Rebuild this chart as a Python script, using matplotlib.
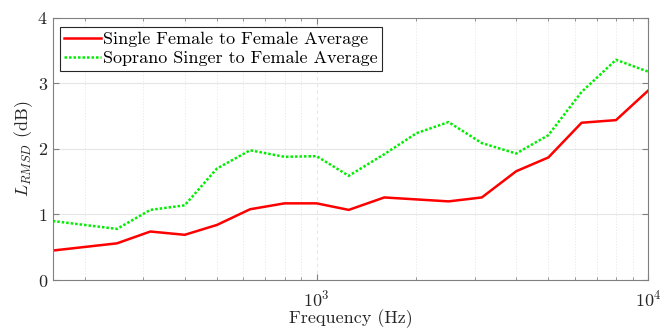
import matplotlib
matplotlib.use("Agg")
import matplotlib.pyplot as plt
from matplotlib.ticker import LogLocator, NullFormatter, FixedLocator

plt.rcParams['font.family'] = ['cmr10', 'DejaVu Serif']
plt.rcParams['mathtext.fontset'] = 'cm'
plt.rcParams['axes.formatter.use_mathtext'] = True

freqs = [160, 250, 315, 400, 500, 630, 800, 1000, 1250, 1600, 2000, 2500,
         3150, 4000, 5000, 6300, 8000, 10000]
single_female = [0.45, 0.56, 0.74, 0.69, 0.84, 1.08, 1.17, 1.17, 1.07, 1.26,
                 1.23, 1.20, 1.26, 1.66, 1.87, 2.40, 2.44, 2.89]
soprano = [0.90, 0.78, 1.07, 1.14, 1.70, 1.98, 1.88, 1.89, 1.59, 1.92,
           2.24, 2.41, 2.09, 1.93, 2.21, 2.87, 3.36, 3.18]
labels = ['Single Female to Female Average', 'Soprano Singer to Female Average']

fig = plt.figure(figsize=(6.6, 3.31), dpi=100)
ax = fig.add_axes([0.080, 0.154, 0.902, 0.792])

ax.plot(freqs, single_female, color='#ff0000', lw=1.8, label=labels[0])
ax.plot(freqs, soprano, color='#00ee00', lw=1.8, ls=(0, (1, 0.8)), label=labels[1])

ax.set_xscale('log')
ax.set_xlim(160, 10000)
ax.set_ylim(0, 4)
ax.set_yticks([0, 1, 2, 3, 4])
ax.xaxis.set_major_locator(FixedLocator([1000, 10000]))
ax.xaxis.set_minor_locator(LogLocator(base=10, subs=range(2, 10), numticks=20))
ax.xaxis.set_minor_formatter(NullFormatter())

ax.grid(True, which='major', axis='y', color='#e6e6e6', lw=0.8)
ax.grid(True, which='major', axis='x', color='#e6e6e6', lw=0.8, ls=(0, (3, 3)))
ax.grid(True, which='minor', axis='x', color='#e6e6e6', lw=0.6, ls=(0, (1.5, 2)))
ax.set_axisbelow(True)

for s in ax.spines.values():
    s.set_color('#808080')
    s.set_linewidth(0.8)
ax.tick_params(which='both', direction='in', colors='#808080', labelcolor='#262626',
               labelsize=13, top=True, right=True)
ax.tick_params(which='major', length=4)
ax.tick_params(which='minor', length=2.5)
ax.tick_params(axis='x', pad=6)

ax.set_xlabel('Frequency (Hz)', fontsize=13, color='#262626', labelpad=0)
ax.set_ylabel(r'$L_{RMSD}$ (dB)', fontsize=13, color='#262626', labelpad=2)

leg = ax.legend(loc='upper left', bbox_to_anchor=(0.012, 0.965), fontsize=13,
                frameon=True, fancybox=False, edgecolor='#262626', framealpha=1,
                borderpad=0.25, handlelength=2.0, handletextpad=0.15, labelspacing=0.2,
                borderaxespad=0)
leg.get_frame().set_linewidth(0.8)

fig.savefig('out.png', dpi=100)
